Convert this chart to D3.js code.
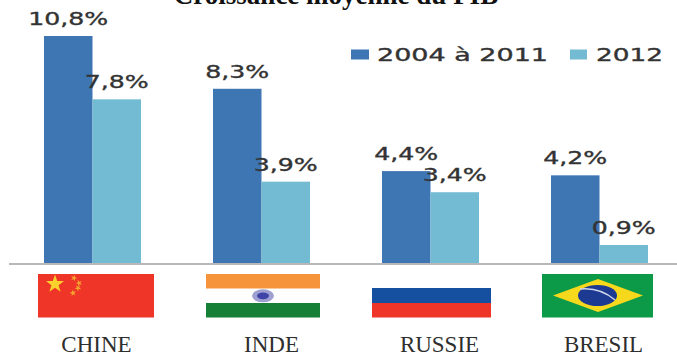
<!DOCTYPE html>
<html lang="fr">
<head>
<meta charset="utf-8">
<title>Croissance moyenne du PIB</title>
<script src="https://cdn.jsdelivr.net/npm/d3@7"></script>
<style>
  html, body { margin: 0; padding: 0; background: #fff; overflow: hidden; }
  svg { display: block; }
  .value, .legend-label { font-family: "DejaVu Sans", sans-serif; fill: #333; stroke: #333; stroke-width: 0.35; }
  .country, .title { font-family: "Liberation Serif", serif; }
</style>
</head>
<body>
<svg id="chart" width="677" height="354"></svg>
<script>
// Data
const categories = ["CHINE", "INDE", "RUSSIE", "BRESIL"];
const seriesNames = ["2004 à 2011", "2012"];
const values2004to2011 = [10.8, 8.3, 4.4, 4.2];
const values2012 = [7.8, 3.9, 3.4, 0.9];
const valueLabels2004to2011 = ["10,8%", "8,3%", "4,4%", "4,2%"];
const valueLabels2012 = ["7,8%", "3,9%", "3,4%", "0,9%"];

// Layout
const W = 677, H = 354, baseY = 264;
const colors = { "2004 à 2011": "#3e75b3", "2012": "#72bbd3" };
const svg = d3.select("#chart");

const x = d3.scaleBand().domain(categories).range([8, 684]);
const inner = d3.scaleBand().domain(seriesNames).range([0, 97]);
const y = d3.scaleLinear().domain([0, 10.8]).range([baseY, 36]);
const groupLeft = c => x(c) + x.bandwidth() / 2 - inner.bandwidth();

const rows = categories.flatMap((c, i) => [
  { c, s: seriesNames[0], v: values2004to2011[i], label: valueLabels2004to2011[i] },
  { c, s: seriesNames[1], v: values2012[i], label: valueLabels2012[i] }
]);

// Title, cut by the top edge of the page
svg.append("text").attr("class", "title")
  .attr("x", 336).attr("y", 4).attr("text-anchor", "middle")
  .attr("font-size", 27).attr("font-weight", 700).attr("fill", "#111")
  .text("Croissance moyenne du PIB");

// Bars
svg.append("g").selectAll("rect").data(rows).join("rect")
  .attr("x", d => groupLeft(d.c) + inner(d.s))
  .attr("y", d => y(d.v))
  .attr("width", inner.bandwidth())
  .attr("height", d => y(0) - y(d.v))
  .attr("fill", d => colors[d.s]);

// Value labels, set wide
svg.append("g").selectAll("text").data(rows).join("text")
  .attr("class", "value")
  .attr("x", d => groupLeft(d.c) + inner(d.s) + inner.bandwidth() / 2)
  .attr("y", d => y(d.v) - 11)
  .attr("text-anchor", "middle")
  .attr("font-size", 17.5)
  .attr("textLength", d => d.label.length * 16)
  .attr("lengthAdjust", "spacingAndGlyphs")
  .text(d => d.label);

// Baseline and country names
const labelShift = { CHINE: 4, INDE: 10, RUSSIE: 9, BRESIL: 4 };
const axis = svg.append("g").attr("transform", `translate(0,${baseY})`)
  .call(d3.axisBottom(x).tickSize(0));
axis.select(".domain").attr("stroke", "#b8b8b8").attr("stroke-width", 2)
  .attr("d", `M9,0H${W}`);
axis.selectAll(".tick text")
  .attr("class", "country")
  .attr("dy", 0).attr("y", 88)
  .attr("dx", d => labelShift[d])
  .attr("font-size", 23).attr("fill", "#2e2e2e")
  .attr("font-family", "Liberation Serif, serif");

// Flags
const flagTop = 274, flagH = 43.5;
const flags = svg.append("g");

function star(cx, cy, r, rot) {
  const pts = d3.range(10).map(i => {
    const a = rot + i * Math.PI / 5 - Math.PI / 2, q = i % 2 ? r * 0.4 : r;
    return [cx + q * Math.cos(a), cy + q * Math.sin(a)];
  });
  return "M" + pts.join("L") + "Z";
}
function band(x0, x1, y0, y1, fill) {
  flags.append("rect").attr("x", x0).attr("y", y0)
    .attr("width", x1 - x0).attr("height", y1 - y0).attr("fill", fill);
}

// China
band(38, 154, flagTop, flagTop + flagH, "#ee3527");
flags.append("path").attr("d", star(55, 284, 9.5, 0)).attr("fill", "#f9d02c");
[[74, 278, 0.3], [79, 283, 0.9], [78, 288, -0.6], [73, 293, -0.2]].forEach(([a, b, r]) =>
  flags.append("path").attr("d", star(a, b, 3.4, r)).attr("fill", "#f5a52e"));

// India
band(206, 320, flagTop, 288.5, "#f6943c");
band(206, 320, 303, flagTop + flagH, "#178037");
flags.append("ellipse").attr("cx", 263).attr("cy", 295.8).attr("rx", 11).attr("ry", 6.5).attr("fill", "#9da0d0");
flags.append("ellipse").attr("cx", 263).attr("cy", 295.8).attr("rx", 6).attr("ry", 3.4).attr("fill", "#3f43a6");

// Russia: the white stripe blends into the page
band(372, 491, 288, 303, "#14509f");
band(372, 491, 303, flagTop + flagH, "#ee3527");

// Brazil
band(542, 653, flagTop, flagTop + flagH, "#0c9a48");
flags.append("path").attr("d", "M553,295.5L598,279L643,295.5L598,312Z").attr("fill", "#f6d81c");
flags.append("ellipse").attr("cx", 597.5).attr("cy", 295.5).attr("rx", 19.5).attr("ry", 10.5).attr("fill", "#1c3a92");
flags.append("path").attr("d", "M580,289Q600,287 615,300").attr("fill", "none")
  .attr("stroke", "#cfd6ea").attr("stroke-width", 1.5);

// Legend
const legendItems = [
  { name: seriesNames[0], sx: 351, sw: 18, tx: 377, tw: 171 },
  { name: seriesNames[1], sx: 570, sw: 17, tx: 596, tw: 67 }
];
const legend = svg.append("g").selectAll("g").data(legendItems).join("g");
legend.append("rect").attr("x", d => d.sx).attr("y", 49.5)
  .attr("width", d => d.sw).attr("height", 10).attr("fill", d => colors[d.name]);
legend.append("text").attr("class", "legend-label")
  .attr("x", d => d.tx).attr("y", 61)
  .attr("font-size", 17.5)
  .attr("textLength", d => d.tw)
  .attr("lengthAdjust", "spacingAndGlyphs")
  .text(d => d.name);
</script>
</body>
</html>
